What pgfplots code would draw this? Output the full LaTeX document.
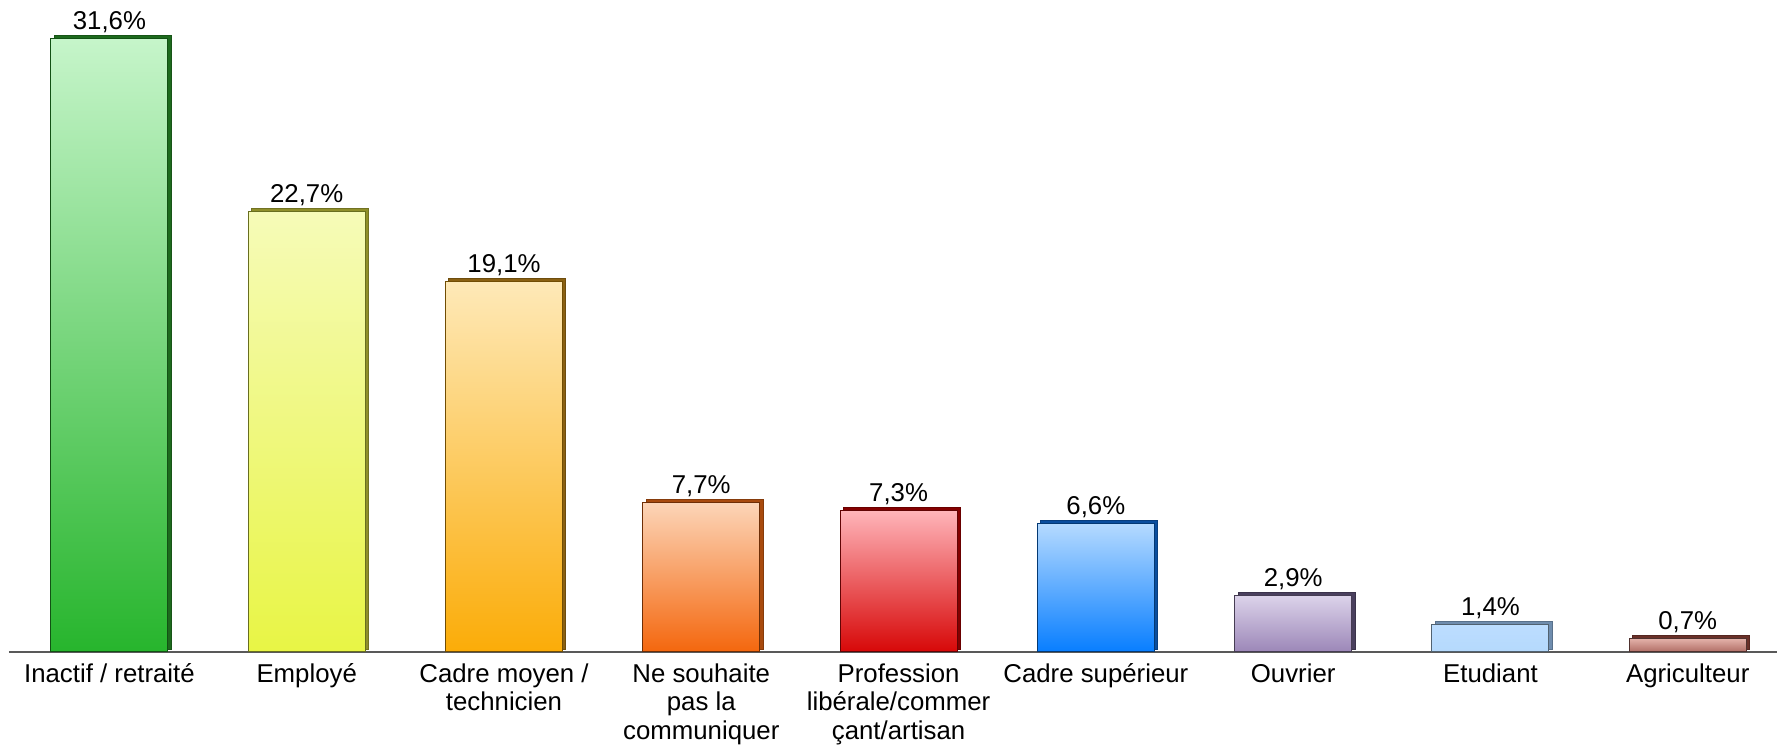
\documentclass[border=0pt]{standalone}
\usepackage{fontspec}
\setmainfont{Liberation Sans}
\usepackage{pgfplots}
\pgfplotsset{compat=1.18}

% bar colours: light top, saturated bottom, dark side
\definecolor{g1}{HTML}{C6F5CA}\definecolor{g2}{HTML}{27B52D}\definecolor{g3}{HTML}{1D6A1D}
\definecolor{y1}{HTML}{F6FBB8}\definecolor{y2}{HTML}{E8F545}\definecolor{y3}{HTML}{8F8F2A}
\definecolor{o1}{HTML}{FEE9B8}\definecolor{o2}{HTML}{FBAC08}\definecolor{o3}{HTML}{8A6012}
\definecolor{r1}{HTML}{FCD5B8}\definecolor{r2}{HTML}{F4670E}\definecolor{r3}{HTML}{A84A0E}
\definecolor{d1}{HTML}{FFB5BA}\definecolor{d2}{HTML}{D70808}\definecolor{d3}{HTML}{850000}
\definecolor{b1}{HTML}{B5DAFF}\definecolor{b2}{HTML}{087EFF}\definecolor{b3}{HTML}{0A4E9E}
\definecolor{p1}{HTML}{DCD3EA}\definecolor{p2}{HTML}{9C87B8}\definecolor{p3}{HTML}{4A405E}
\definecolor{l1}{HTML}{BCDDFF}\definecolor{l2}{HTML}{B5D9FC}\definecolor{l3}{HTML}{6F8DAE}
\definecolor{m1}{HTML}{E6B4AC}\definecolor{m2}{HTML}{B06E66}\definecolor{m3}{HTML}{6A3028}

\pgfplotsset{
  side/.style={ybar, bar width=0.593, bar shift=0pt, fill=#1, draw=#1!80!black,
    line width=0.3pt, xshift=1.6pt, yshift=1.4pt},
  front/.style 2 args={ybar, bar width=0.593, bar shift=0pt, draw=#2!45!black,
    line width=0.5pt, top color=#1, bottom color=#2,
    nodes near coords={\pgfmathprintnumber{\pgfplotspointmeta}\%},
    every node near coord/.append style={font=\fontsize{12.9}{14}\selectfont,
      anchor=south, inner sep=0pt, yshift=2.6pt}},
}

\begin{document}
\begin{tikzpicture}
\begin{axis}[
    scale only axis,
    width=884.5pt, height=326pt,
    xmin=-0.509, xmax=8.453,
    ymin=0, ymax=33.58,
    axis x line*=bottom, axis y line=none,
    x axis line style={-, draw=black!65, line width=0.9pt},
    ytick=\empty,
    xtick={0,...,8},
    major tick length=0pt,
    xticklabels={{Inactif / retraité}, Employé, {Cadre moyen /\\technicien},
      {Ne souhaite\\pas la\\communiquer}, {Profession\\libérale/commer\\çant/artisan},
      {Cadre supérieur}, Ouvrier, Etudiant, Agriculteur},
    xticklabel style={align=center, anchor=north, inner sep=0pt, yshift=-5.8pt,
      font=\fontsize{12.9}{14.25}\selectfont},
    /pgf/number format/.cd, use comma, fixed, fixed zerofill, precision=1,
      assume math mode=true,
]
\addplot[side=g3] coordinates {(0,31.6)};
\addplot[front={g1}{g2}] coordinates {(0,31.6)};
\addplot[side=y3] coordinates {(1,22.7)};
\addplot[front={y1}{y2}] coordinates {(1,22.7)};
\addplot[side=o3] coordinates {(2,19.1)};
\addplot[front={o1}{o2}] coordinates {(2,19.1)};
\addplot[side=r3] coordinates {(3,7.7)};
\addplot[front={r1}{r2}] coordinates {(3,7.7)};
\addplot[side=d3] coordinates {(4,7.3)};
\addplot[front={d1}{d2}] coordinates {(4,7.3)};
\addplot[side=b3] coordinates {(5,6.6)};
\addplot[front={b1}{b2}] coordinates {(5,6.6)};
\addplot[side=p3] coordinates {(6,2.9)};
\addplot[front={p1}{p2}] coordinates {(6,2.9)};
\addplot[side=l3] coordinates {(7,1.4)};
\addplot[front={l1}{l2}] coordinates {(7,1.4)};
\addplot[side=m3] coordinates {(8,0.7)};
\addplot[front={m1}{m2}] coordinates {(8,0.7)};
\end{axis}
% page margins as in the reference
\path ([xshift=-4.5pt,yshift=-48pt]current axis.south west) rectangle (current axis.north east);
\end{tikzpicture}
\end{document}
